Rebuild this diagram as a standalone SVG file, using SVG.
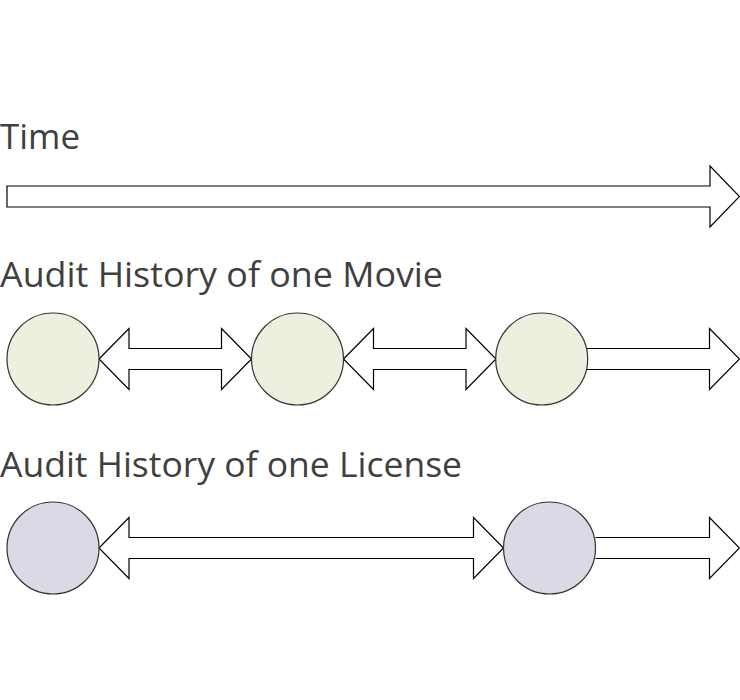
<svg xmlns="http://www.w3.org/2000/svg" width="740" height="700" viewBox="0 0 740 700">
<style>
.lbl{font-family:"Open Sans","Liberation Sans",sans-serif;font-size:34px;fill:#404040}
.arr{fill:#fff;stroke:#000;stroke-width:1.2;stroke-linejoin:miter}
.mv{fill:#EBF1DE;stroke:#333;stroke-width:1.2}
.lc{fill:#DDD8E6;stroke:#333;stroke-width:1.2}
</style>
<rect width="740" height="700" fill="#fff"/>
<text class="lbl" x="0" y="149" textLength="80" lengthAdjust="spacingAndGlyphs">Time</text>
<text class="lbl" x="0" y="287" textLength="443" lengthAdjust="spacingAndGlyphs">Audit History of one Movie</text>
<text class="lbl" x="0" y="477" textLength="462" lengthAdjust="spacingAndGlyphs">Audit History of one License</text>
<g id="connectors">
<path id="time" class="arr" d="M7,186 H710 V166 L739.5,196.5 L710,227 V207 H7 Z"/>
<path class="arr" d="M99,359 L129,328.5 V348.5 H221.5 V328.5 L251.5,359 L221.5,389.5 V369.5 H129 V389.5 Z"/>
<path class="arr" d="M343.5,359 L373.5,328.5 V348.5 H466 V328.5 L496,359 L466,389.5 V369.5 H373.5 V389.5 Z"/>
<path class="arr" d="M587,348.5 H709.5 V328.5 L739.5,359 L709.5,389.5 V369.5 H587"/>
<path class="arr" d="M99,548 L129,517.5 V537.5 H473.5 V517.5 L503.5,548 L473.5,578.5 V558.5 H129 V578.5 Z"/>
<path class="arr" d="M595.5,537.5 H709.5 V517.5 L739.5,548 L709.5,578.5 V558.5 H595.5"/>
</g>
<g id="movie1"><circle class="mv" cx="53" cy="359" r="46"/></g>
<g id="movie2"><circle class="mv" cx="297.5" cy="359" r="46"/></g>
<g id="movie3"><circle class="mv" cx="541.7" cy="359" r="46"/></g>
<g id="license1"><circle class="lc" cx="53" cy="548" r="46"/></g>
<g id="license2"><circle class="lc" cx="549.5" cy="548" r="46"/></g>
</svg>
